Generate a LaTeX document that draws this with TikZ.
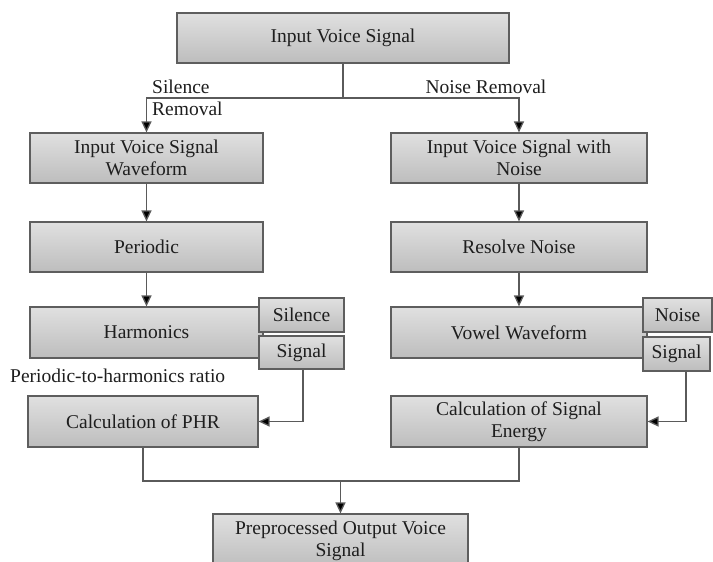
\documentclass[tikz,border=0pt]{standalone}
\usepackage{fontspec}
\setmainfont{Liberation Serif}
\usetikzlibrary{arrows.meta}
\definecolor{boxtop}{HTML}{E0E0E0}
\definecolor{boxbot}{HTML}{BDBDBD}
\definecolor{boxline}{HTML}{5E5E5E}
\definecolor{conn}{HTML}{5A5A5A}
\definecolor{txt}{HTML}{1E1E1E}
\tikzset{
  box/.style={draw=boxline, line width=1.2pt, top color=boxtop, bottom color=boxbot,
    inner sep=0pt, align=center, text=txt, font=\fontsize{19.5}{22}\selectfont},
  lbl/.style={inner sep=0pt, text=txt, font=\fontsize{19.5}{22}\selectfont},
  conline/.style={draw=conn, line width=1.3pt},
  arr/.style={conline, -{Triangle[length=11pt,width=10pt,fill=black]}}
}
\begin{document}
\begin{tikzpicture}[x=1pt,y=-1pt]
\useasboundingbox (0,0) rectangle (713,562);
% boxes
\node[box, minimum width=332pt, minimum height=50pt] (top) at (343,38) {Input Voice Signal};
\node[box, minimum width=233pt, minimum height=50pt] (l1) at (146.5,158) {Input Voice Signal\\Waveform};
\node[box, minimum width=256pt, minimum height=50pt] (r1) at (519,158) {Input Voice Signal with\\Noise};
\node[box, minimum width=233pt, minimum height=50pt] (per) at (146.5,247) {Periodic};
\node[box, minimum width=256pt, minimum height=50pt] (res) at (519,247) {Resolve Noise};
\node[box, minimum width=233pt, minimum height=51pt] (har) at (146.5,332.5) {Harmonics};
\node[box, minimum width=256pt, minimum height=51pt] (vow) at (519,332.5) {Vowel Waveform};
\node[box, minimum width=85pt, minimum height=34pt] (sil) at (301.5,315) {Silence};
\node[box, minimum width=85pt, minimum height=33pt] (sigl) at (301.5,352.5) {Signal};
\node[box, minimum width=69pt, minimum height=34pt] (noi) at (677.5,315) {Noise};
\node[box, minimum width=67pt, minimum height=34pt] (sigr) at (676.5,354) {Signal};
\node[box, minimum width=230pt, minimum height=51pt] (phr) at (143,421.5) {Calculation of PHR};
\node[box, minimum width=256pt, minimum height=51pt] (ene) at (519,421.5) {Calculation of Signal\\Energy};
\node[box, minimum width=255pt, minimum height=54pt] (out) at (340.5,541) {Preprocessed Output Voice\\Signal};
% labels
\node[lbl, anchor=west, align=left] (lsil) at (152,97.5) {Silence\\Removal};
\node[lbl] (lnoi) at (486,87) {Noise Removal};
\node[lbl, anchor=west] (lphr) at (10,376) {Periodic-to-harmonics ratio};
% connectors
\coordinate (split) at (343,98);
\draw[conline] (top.south) -- (split);
\draw[arr] (split) -| (l1.north);
\draw[arr] (split) -| (r1.north);
\draw[arr] (l1.south) -- (per.north);
\draw[arr] (per.south) -- (har.north);
\draw[arr] (r1.south) -- (res.north);
\draw[arr] (res.south) -- (vow.north);
\draw[arr] ([xshift=1.5pt]sigl.south) |- (phr.east);
\draw[arr] ([xshift=9.5pt]sigr.south) |- (ene.east);
\coordinate (merge) at (340.5,481);
\draw[conline] (phr.south) |- (merge) -| (ene.south);
\draw[arr] (merge) -- (out.north);
\end{tikzpicture}
\end{document}
